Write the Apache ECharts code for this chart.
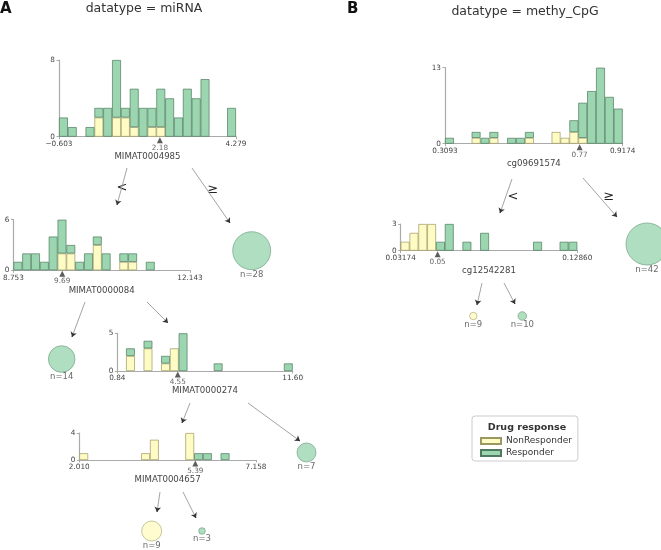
<!DOCTYPE html>
<html><head><meta charset="utf-8">
<script src="https://cdn.jsdelivr.net/npm/echarts@6/dist/echarts.min.js"></script>
<style>html,body{margin:0;padding:0;background:#fff}#c{width:661px;height:550px}</style>
</head><body><div id="c"></div>
<script>
// ================= DATA =================
const histNames = ['MIMAT0004985', 'MIMAT0000084', 'MIMAT0000274', 'MIMAT0004657', 'cg09691574', 'cg12542281'];
const histMin = [-0.603, 8.753, 0.84, 2.010, 0.3093, 0.03174];
const histMax = [4.279, 12.143, 11.60, 7.158, 0.9174, 0.12860];
const minLabels = ['\u22120.603', '8.753', '0.84', '2.010', '0.3093', '0.03174'];
const maxLabels = ['4.279', '12.143', '11.60', '7.158', '0.9174', '0.12860'];
const splitValues = [2.18, 9.69, 4.55, 5.39, 0.77, 0.052];
const splitLabels = ['2.18', '9.69', '4.55', '5.39', '0.77', '0.05'];
const yMax = [8, 6, 5, 4, 13, 3];

// counts per bin (20 bins), NonResponder and Responder
const nonResp1 = [0,0,0,0,2,0,2,2,1,0,1,1,0,0,0,0,0,0,0,0];
const resp1    = [2,1,0,1,1,3,6,1,4,3,2,4,4,2,5,4,6,0,0,3];
const nonResp2 = [0,0,0,0,0,2,2,0,0,3,0,0,1,1,0,0,0,0,0,0];
const resp2    = [1,2,2,1,4,4,1,1,2,1,2,0,1,1,0,1,0,0,0,0];
const nonResp3 = [0,2,0,3,0,1,3,0,0,0,0,0,0,0,0,0,0,0,0,0];
const resp3    = [0,1,0,1,0,1,0,5,0,0,0,1,0,0,0,0,0,0,0,1];
const nonResp4 = [1,0,0,0,0,0,0,1,3,0,0,0,4,0,0,0,0,0,0,0];
const resp4    = [0,0,0,0,0,0,0,0,0,0,0,0,0,1,1,0,1,0,0,0];
const nonResp5 = [0,0,0,1,0,1,0,0,0,1,0,0,2,1,2,1,0,0,0,0];
const resp5    = [1,0,0,1,1,1,0,1,1,1,0,0,0,0,2,6,9,13,8,6];
const nonResp6 = [1,2,3,3,0,0,0,0,0,0,0,0,0,0,0,0,0,0,0,0];
const resp6    = [0,0,0,0,1,3,0,1,0,2,0,0,0,0,0,1,0,0,1,1];

// terminal nodes
const leafN = [28, 14, 7, 9, 3, 42, 9, 10];
const leafClass = ['Responder','Responder','Responder','NonResponder','Responder','Responder','NonResponder','Responder'];

const classNames = ['NonResponder', 'Responder'];
const panelTitles = ['datatype = miRNA', 'datatype = methy_CpG'];
const panelLetters = ['A', 'B'];
const legendTitle = 'Drug response';

// ================= LAYOUT / STYLE =================
const F = '"DejaVu Sans", Verdana, sans-serif';
const YEL = '#fffbc4', YEL_B = '#9c9863';
const GRN = '#9bd6b0', GRN_B = '#4f7a5e';
const AX = '#aaaaaa', TXT = '#444444';

const gridLayout = [
  {left: 59,    top: 60,    width: 177,   height: 76.7},
  {left: 12.3,  top: 219.7, width: 177.7, height: 50.6},
  {left: 117.3, top: 333.3, width: 175.4, height: 37.7},
  {left: 79.3,  top: 433,   width: 176.7, height: 27},
  {left: 445,   top: 67.7,  width: 177.7, height: 76},
  {left: 400.7, top: 224,   width: 176.6, height: 26.7}
];
const leafPos = [[251.7,250.7],[61.7,359],[306.5,452.5],[151.7,531],[202,531],[647,244],[473.3,316],[522.3,316]];
const leafR = [19, 13.3, 9.5, 10, 3.3, 21, 3.7, 4.3];
const arrows = [
  [[127,168],[117,205]], [[192,168],[230,223]],
  [[85,302],[72,337]], [[147,302],[168,323]],
  [[190,403],[182,423]], [[248,403],[300,441]],
  [[160,492],[157,512]], [[183,492],[196,518]],
  [[512,179],[500,213]], [[583,178],[617,217]],
  [[482,283],[477,305]], [[504,283],[515,304]]
];
const edgeLabels = [
  {text:'<', x:122, y:188}, {text:'\u2265', x:213, y:190},
  {text:'<', x:513, y:197}, {text:'\u2265', x:609, y:197}
];

// ================= BUILD =================
const nonResp = [nonResp1,nonResp2,nonResp3,nonResp4,nonResp5,nonResp6];
const resp = [resp1,resp2,resp3,resp4,resp5,resp6];
const grid = [], xAxis = [], yAxis = [], series = [];

gridLayout.forEach((g, i) => {
  grid.push(Object.assign({containLabel: false}, g));
  xAxis.push({type: 'category', gridIndex: i, position: 'bottom', data: nonResp[i].map((_, k) => 'b' + k), show: false, boundaryGap: true});
  const mn = histMin[i], mx = histMax[i];
  xAxis.push({
    type: 'value', gridIndex: i, position: 'bottom', offset: 0, min: mn, max: mx,
    axisLine: {show: true, onZero: false, lineStyle: {color: AX, width: 1.2}},
    axisTick: {show: true, customValues: [mn, mx], length: 2.5, lineStyle: {color: AX}},
    axisLabel: {show: true, customValues: [mn, mx], showMinLabel: true, showMaxLabel: true,
      formatter: v => Math.abs(v - mn) < Math.abs(v - mx) ? minLabels[i] : maxLabels[i],
      fontSize: 7.3, color: TXT, margin: 4, fontFamily: F},
    splitLine: {show: false},
    name: histNames[i], nameLocation: 'middle', nameGap: 15.5,
    nameTextStyle: {fontSize: 8.6, color: TXT, fontFamily: F}
  });
  yAxis.push({
    type: 'value', gridIndex: i, position: 'left', min: 0, max: yMax[i], interval: yMax[i],
    axisLine: {show: true, onZero: false, lineStyle: {color: AX, width: 1.2}},
    axisTick: {show: true, length: 2.5, lineStyle: {color: AX}},
    axisLabel: {fontSize: 7.3, color: TXT, margin: 4, fontFamily: F},
    splitLine: {show: false}
  });
  series.push({
    type: 'bar', name: classNames[0], xAxisIndex: 2 * i, yAxisIndex: i, stack: 'h' + i,
    data: nonResp[i].map(v => v || '-'), barWidth: '100%', silent: true,
    itemStyle: {color: YEL, borderColor: YEL_B, borderWidth: 0.7}
  });
  series.push({
    type: 'bar', name: classNames[1], xAxisIndex: 2 * i, yAxisIndex: i, stack: 'h' + i,
    data: resp[i].map(v => v || '-'), barWidth: '100%', silent: true,
    itemStyle: {color: GRN, borderColor: GRN_B, borderWidth: 0.7}
  });
  series.push({
    type: 'scatter', xAxisIndex: 2 * i + 1, yAxisIndex: i, clip: false, silent: true, z: 5,
    data: [[splitValues[i], 0]], symbol: 'triangle', symbolSize: [6, 6], symbolOffset: [0, 3.5],
    itemStyle: {color: '#333'},
    label: {show: true, position: 'bottom', distance: 1, formatter: splitLabels[i],
      fontSize: 7.3, color: TXT, fontFamily: F}
  });
});

// overlay coordinate system for tree layout
const OV = gridLayout.length;
grid.push({left: 0, top: 0, width: 661, height: 550, containLabel: false});
xAxis.push({type: 'value', gridIndex: OV, min: 0, max: 661, show: false});
yAxis.push({type: 'value', gridIndex: OV, min: 0, max: 550, inverse: true, show: false});

series.push({
  type: 'lines', coordinateSystem: 'cartesian2d', xAxisIndex: 2 * OV, yAxisIndex: OV, silent: true,
  data: arrows.map(a => ({coords: a})), symbol: 'none',
  lineStyle: {color: '#999', width: 0.9, opacity: 1}
});
series.push({
  type: 'lines', coordinateSystem: 'cartesian2d', xAxisIndex: 2 * OV, yAxisIndex: OV, silent: true,
  data: arrows.map(a => {
    const dx = a[1][0] - a[0][0], dy = a[1][1] - a[0][1], L = Math.hypot(dx, dy);
    return {coords: [[a[1][0] - dx / L * 3, a[1][1] - dy / L * 3], a[1]]};
  }),
  symbol: ['none', 'arrow'], symbolSize: 5,
  lineStyle: {color: '#333', width: 0.9, opacity: 1}
});
series.push({
  type: 'scatter', xAxisIndex: 2 * OV, yAxisIndex: OV, silent: true, clip: false, z: 4,
  data: leafN.map((n, k) => ({
    value: leafPos[k],
    symbolSize: 2 * leafR[k],
    itemStyle: leafClass[k] === 'Responder' ? {color: GRN, borderColor: '#6a9a7a', borderWidth: 0.8}
                                            : {color: YEL, borderColor: '#a8a470', borderWidth: 0.8},
    label: {show: true, position: 'bottom', distance: 0, formatter: 'n=' + n,
      fontSize: 8.5, color: TXT, fontFamily: F}
  }))
});

const graphic = [
  {type: 'text', left: 0, top: 2, style: {text: panelLetters[0], font: 'bold 15px ' + F, fill: '#111'}},
  {type: 'text', left: 347, top: 2, style: {text: panelLetters[1], font: 'bold 15px ' + F, fill: '#111'}},
  {type: 'text', x: 144, y: 9, style: {text: panelTitles[0], font: '12.5px ' + F, fill: '#333', align: 'center', verticalAlign: 'middle'}},
  {type: 'text', x: 525, y: 12, style: {text: panelTitles[1], font: '12.5px ' + F, fill: '#333', align: 'center', verticalAlign: 'middle'}},
  {type: 'text', x: 527, y: 428, z: 10, style: {text: legendTitle, font: 'bold 9.5px ' + F, fill: '#333', align: 'center', verticalAlign: 'middle'}}
].concat(edgeLabels.map(e => ({type: 'text', x: e.x, y: e.y, style: {text: e.text, font: '13px ' + F, fill: '#222', align: 'center', verticalAlign: 'middle'}})));

const chart = echarts.init(document.getElementById('c'), null, {renderer: 'canvas'});
chart.setOption({
  animation: false,
  backgroundColor: '#fff',
  grid, xAxis, yAxis, series, graphic,
  legend: {
    data: classNames, orient: 'vertical', left: 472, top: 416,
    padding: [20.5, 6, 3.5, 8], itemWidth: 20, itemHeight: 6, itemGap: 3,
    borderColor: '#cccccc', borderWidth: 1, borderRadius: 3,
    icon: 'rect', selectedMode: false,
    textStyle: {fontSize: 9, color: '#333', fontFamily: F}
  }
});
</script></body></html>
